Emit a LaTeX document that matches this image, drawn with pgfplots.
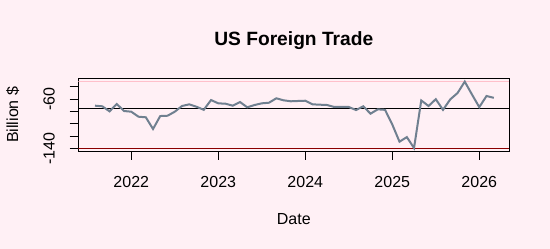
\documentclass[border=0pt]{standalone}
\usepackage{pgfplots}
\pgfplotsset{compat=1.18}
\usepackage{pgfplotstable}
\usepackage{fontspec}
\setmainfont{Liberation Sans}
\definecolor{bgcol}{HTML}{FFF0F5}
\definecolor{linecol}{HTML}{708090}
\definecolor{pinkcol}{HTML}{FFC0CB}
\definecolor{darkred}{HTML}{8B0000}
\pgfplotstableread{
t v
2021.583 -70.6
2021.667 -71.6
2021.750 -79.7
2021.833 -67.9
2021.917 -79.2
2022.000 -80.3
2022.083 -88.4
2022.167 -89.3
2022.250 -108.2
2022.333 -87.3
2022.417 -86.8
2022.500 -80.3
2022.583 -71.1
2022.667 -68.4
2022.750 -72.3
2022.833 -77.3
2022.917 -61.5
2023.000 -66.8
2023.083 -67.4
2023.167 -70.6
2023.250 -64.7
2023.333 -73.2
2023.417 -69.5
2023.500 -66.8
2023.583 -65.8
2023.667 -58.7
2023.750 -61.9
2023.833 -63.5
2023.917 -63.0
2024.000 -62.6
2024.083 -68.4
2024.167 -69.0
2024.250 -69.5
2024.333 -72.7
2024.417 -72.7
2024.500 -72.7
2024.583 -77.6
2024.667 -71.6
2024.750 -83.5
2024.833 -76.5
2024.917 -77.3
2025.000 -101.0
2025.083 -128.7
2025.167 -121.3
2025.250 -138.9
2025.333 -62.2
2025.417 -71.1
2025.500 -60.1
2025.583 -77.3
2025.667 -60.3
2025.750 -50.2
2025.833 -31.8
2025.917 -52.8
2026.000 -72.9
2026.083 -55.0
2026.167 -57.9
}\tradedata
\begin{document}
\begin{tikzpicture}
\fill[bgcol] (0,0) rectangle (550bp,249bp);
\useasboundingbox (0,0) rectangle (550bp,249bp);
\begin{axis}[
  at={(78.3bp,97.7bp)}, anchor=south west,
  scale only axis, width=431bp, height=73bp,
  xmin=2021.391, xmax=2026.345, ymin=-144.2, ymax=-26.4,
  axis background/.style={fill=bgcol},
  axis line style={line width=1bp, black},
  tick style={line width=1bp, black},
  tick align=outside, major tick length=8.7bp,
  xtick={2022,2023,2024,2025,2026},
  xticklabels={2022,2023,2024,2025,2026},
  ytick={-140,-120,-100,-80,-60,-40},
  yticklabels={-140,,,,-60,},
  xtick pos=bottom, ytick pos=left,
  tick label style={font=\fontsize{16bp}{18bp}\selectfont},
  xticklabel style={anchor=base, yshift=-27bp},
  yticklabel style={xshift=-15bp, rotate=90, anchor=base},
  title={\textbf{US Foreign Trade}},
  title style={font=\fontsize{19.2bp}{22bp}\selectfont, at={(axis description cs:0.5,1)}, anchor=base, yshift=26.6bp},
  xlabel={Date},
  xlabel style={font=\fontsize{16bp}{18bp}\selectfont, at={(axis description cs:0.5,0)}, anchor=base, yshift=-72.7bp},
  ylabel={Billion \$},
  ylabel style={font=\fontsize{16bp}{18bp}\selectfont, at={(axis description cs:-0.1399,0.5)}, anchor=base},
  clip=true,
]
\addplot[pinkcol, line width=1.5bp] coordinates {(2021.391,-31.3) (2026.345,-31.3)};
\addplot[darkred, line width=1.5bp] coordinates {(2021.391,-139.4) (2026.345,-139.4)};
\addplot[black, line width=1bp] coordinates {(2021.391,-74.8) (2026.345,-74.8)};
\addplot[linecol, line width=2bp] table[x=t, y=v] {\tradedata};
\end{axis}
\end{tikzpicture}
\end{document}
